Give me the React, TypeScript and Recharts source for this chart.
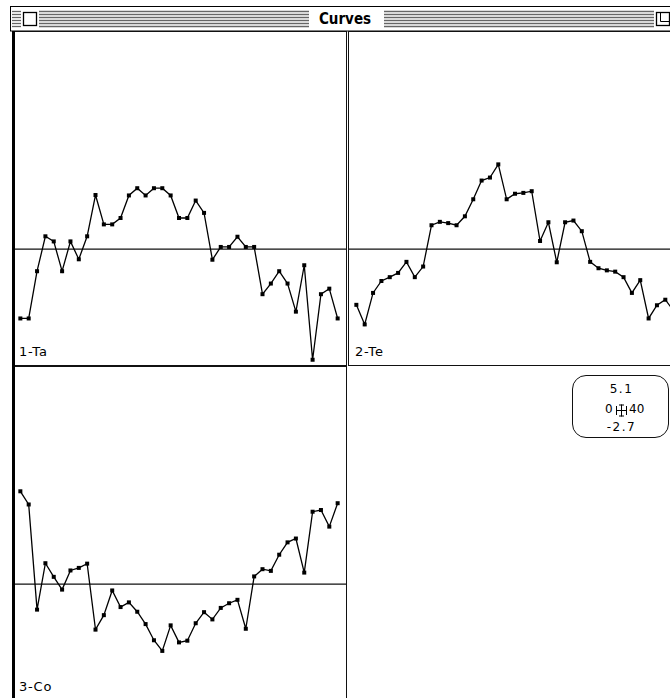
import { LineChart, Line, XAxis, YAxis, ReferenceLine } from "recharts";

// sample positions on the 0..40 axis
const steps = [
  1, 2, 3, 4, 5, 6, 7, 8, 9, 10, 11, 12, 13, 14, 15, 16, 17, 18, 19, 20,
  21, 22, 23, 24, 25, 26, 27, 28, 29, 30, 31, 32, 33, 34, 35, 36, 37, 38, 39,
];

const taValues = [
  -1.63, -1.63, -0.52, 0.3, 0.18, -0.52, 0.18, -0.24, 0.3, 1.27, 0.58, 0.58,
  0.73, 1.26, 1.43, 1.26, 1.43, 1.43, 1.26, 0.73, 0.73, 1.14, 0.85, -0.25,
  0.05, 0.05, 0.29, 0.05, 0.05, -1.06, -0.81, -0.52, -0.81, -1.47, -0.38,
  -2.6, -1.06, -0.93, -1.63,
];

const teValues = [
  -1.31, -1.77, -1.03, -0.75, -0.66, -0.56, -0.3, -0.66, -0.41, 0.56, 0.64,
  0.61, 0.56, 0.77, 1.17, 1.61, 1.68, 1.99, 1.17, 1.3, 1.32, 1.36, 0.19, 0.63,
  -0.31, 0.63, 0.67, 0.42, -0.3, -0.45, -0.5, -0.53, -0.66, -1.03, -0.73,
  -1.63, -1.32, -1.19, -1.45,
];

const coValues = [
  2.18, 1.87, -0.6, 0.49, 0.17, -0.13, 0.32, 0.38, 0.48, -1.07, -0.73, -0.15,
  -0.54, -0.43, -0.65, -0.94, -1.32, -1.57, -0.97, -1.37, -1.33, -0.92, -0.66,
  -0.83, -0.56, -0.45, -0.37, -1.05, 0.18, 0.35, 0.31, 0.69, 0.98, 1.07, 0.27,
  1.7, 1.74, 1.35, 1.9,
];

const curveLabels = ["1-Ta", "2-Te", "3-Co"];
const xDomain = [0, 40];
const yDomain = [-2.7, 5.1];
const scaleTexts = ["5.1", "0", "40", "-2.7"];

const uiFont = '"DejaVu Sans", Verdana, sans-serif';

const SquareDot = (props: any) => {
  const { cx, cy, index } = props;
  if (cx == null || cy == null) return null;
  return <rect key={index} x={cx - 2} y={cy - 2} width={4} height={4} fill="#000" />;
};

const Curve = ({ values, label, left, top }: { values: number[]; label: string; left: number; top: number }) => {
  const data = steps.map((x, i) => ({ x, v: values[i] }));
  return (
    <>
      <div
        style={{
          position: "absolute",
          left,
          top: top - 1,
          width: 335,
          height: 335,
          border: "1px solid #111",
          boxSizing: "border-box",
        }}
      />
      <div style={{ position: "absolute", left, top }}>
        <LineChart width={334} height={332} data={data} margin={{ top: 0, right: 0, bottom: 0, left: 0 }}>
          <XAxis type="number" dataKey="x" domain={xDomain} hide />
          <YAxis type="number" domain={yDomain} hide />
          <ReferenceLine y={0} stroke="#111" strokeWidth={1.2} />
          <Line
            dataKey="v"
            type="linear"
            stroke="#000"
            strokeWidth={1.3}
            dot={SquareDot}
            activeDot={false}
            isAnimationActive={false}
          />
        </LineChart>
      </div>
      <div
        style={{
          position: "absolute",
          left: left + 7,
          top: top + 313,
          fontFamily: uiFont,
          fontSize: 13,
          lineHeight: "14px",
          letterSpacing: 0.8,
          color: "#000",
        }}
      >
        {label}
      </div>
    </>
  );
};

const TitleBar = () => {
  const stripes = [11, 14, 17, 20, 23, 26];
  return (
    <svg width={670} height={32} style={{ position: "absolute", left: 0, top: 0 }}>
      <rect x={10.5} y={6.5} width={700} height={24.5} fill="#fff" stroke="#000" strokeWidth={1} />
      {stripes.map((y) => (
        <g key={y}>
          <line x1={12} x2={21} y1={y + 0.5} y2={y + 0.5} stroke="#666" strokeWidth={1.3} />
          <line x1={39} x2={309} y1={y + 0.5} y2={y + 0.5} stroke="#666" strokeWidth={1.3} />
          <line x1={384} x2={654} y1={y + 0.5} y2={y + 0.5} stroke="#666" strokeWidth={1.3} />
        </g>
      ))}
      <rect x={23.5} y={12.5} width={13} height={13} fill="#fff" stroke="#000" strokeWidth={1.3} />
      <rect x={656.5} y={12.5} width={13} height={13} fill="#fff" stroke="#000" strokeWidth={1.3} />
      <path d="M660.5 12.5 V21.5 H669.5" fill="none" stroke="#000" strokeWidth={1} />
      <text
        x={345}
        y={24}
        textAnchor="middle"
        fontFamily='"DejaVu Sans Condensed", "DejaVu Sans", sans-serif'
        fontWeight="bold"
        fontSize={15}
        fill="#000"
      >
        Curves
      </text>
    </svg>
  );
};

const ScaleBox = () => (
  <div
    style={{
      position: "absolute",
      left: 572,
      top: 375,
      width: 97,
      height: 63,
      border: "1px solid #111",
      borderRadius: 14,
      boxSizing: "border-box",
      fontFamily: uiFont,
      fontSize: 12,
      color: "#000",
    }}
  >
    <div style={{ position: "absolute", left: 0, width: 97, top: 6, textAlign: "center", letterSpacing: 1.5 }}>
      {scaleTexts[0]}
    </div>
    <div style={{ position: "absolute", left: 32, top: 26 }}>{scaleTexts[1]}</div>
    <svg width={14} height={13} style={{ position: "absolute", left: 42, top: 28 }}>
      <line x1={1} x2={12} y1={6.5} y2={6.5} stroke="#000" />
      <line x1={1.5} x2={1.5} y1={2} y2={11} stroke="#000" />
      <line x1={11.5} x2={11.5} y1={2} y2={11} stroke="#000" />
      <line x1={6.5} x2={6.5} y1={0.5} y2={12.5} stroke="#000" />
      <line x1={4} x2={9} y1={1} y2={1} stroke="#000" />
      <line x1={4} x2={9} y1={12} y2={12} stroke="#000" />
    </svg>
    <div style={{ position: "absolute", left: 56, top: 26 }}>{scaleTexts[2]}</div>
    <div style={{ position: "absolute", left: 0, width: 97, top: 44, textAlign: "center", letterSpacing: 1.5 }}>
      {scaleTexts[3]}
    </div>
  </div>
);

export default function App() {
  return (
    <div
      style={{
        position: "absolute",
        left: 0,
        top: 0,
        width: 670,
        height: 698,
        overflow: "hidden",
        background: "#fff",
      }}
    >
      <TitleBar />
      <Curve values={taValues} label={curveLabels[0]} left={12} top={32} />
      <Curve values={teValues} label={curveLabels[1]} left={348} top={32} />
      <Curve values={coValues} label={curveLabels[2]} left={12} top={367} />
      <div style={{ position: "absolute", left: 12, top: 31, width: 3, height: 667, background: "#000" }} />
      <ScaleBox />
    </div>
  );
}
